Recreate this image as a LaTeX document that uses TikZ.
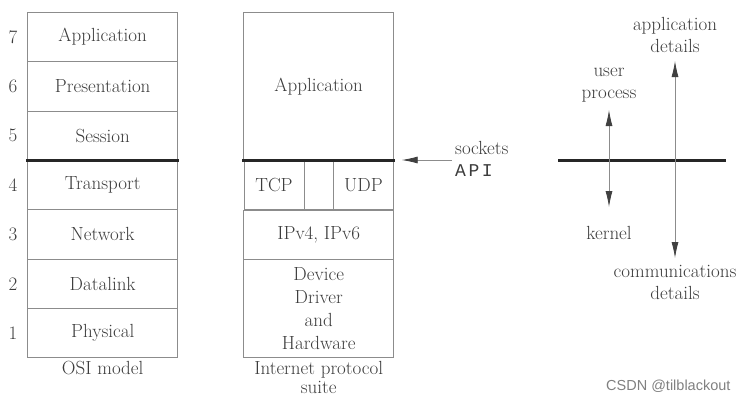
\documentclass[tikz,border=0pt]{standalone}
\usepackage{fontspec}
\usepackage{tikz}
\usetikzlibrary{arrows.meta}
\newfontfamily\apifont[LetterSpace=14]{Liberation Mono}
\newfontfamily\markfont{Liberation Sans}
\definecolor{txtgray}{HTML}{3C3C3C}
\definecolor{boxgray}{HTML}{8C8C8C}

\begin{document}
\begin{tikzpicture}[x=1pt,y=-1pt,
    every node/.style={font=\fontsize{19}{22}\selectfont, text=txtgray},
    layer/.style={draw=boxgray, line width=0.8pt, minimum width=150pt,
      minimum height=49.35pt, inner sep=0pt},
    thickbar/.style={line width=3pt, draw=black!85},
    arr/.style={draw=boxgray, line width=0.8pt, -{Latex[length=16pt,width=7pt,color=black!75]}},
    dblarr/.style={draw=boxgray, line width=0.8pt,
      {Latex[length=16pt,width=7pt,color=black!75]}-{Latex[length=16pt,width=7pt,color=black!75]}}]
  \useasboundingbox (0,0) rectangle (749,402);

  % OSI model
  \foreach \n/\name [count=\i] in {7/Application,6/Presentation,5/Session,
      4/Transport,3/Network,2/Datalink,1/Physical}{
    \node[layer] (osi\n) at (102.7,{36.975+49.35*(\i-1)}) {\name};
    \node (num\n) at (13,{36.975+49.35*(\i-1)}) {\n};
  }
  \node (osicap) at (102.7,368) {OSI model};
  \draw[thickbar] ([xshift=-1.3pt]osi5.south west) -- ([xshift=1.3pt]osi5.south east);

  % Internet protocol suite
  \node[layer, minimum height=148pt] (ipapp) at (318.7,86.3) {Application};
  \node[layer, minimum width=60pt] (tcp) at (274,185) {TCP};
  \node[layer, minimum width=29.7pt] (gap) at (318.85,185) {};
  \node[layer, minimum width=59.6pt] (udp) at (363.5,185) {UDP};
  \node[layer] (ip) at (318.7,234.65) {IPv4, IPv6};
  \node[layer, minimum height=98.4pt, align=center,
    font=\fontsize{19}{23}\selectfont] (dev) at (318.7,308.5)
    {Device\\Driver\\and\\Hardware};
  \node[align=center, font=\fontsize{19}{19}\selectfont] (ipcap) at (318.7,377)
    {Internet protocol\\suite};
  \draw[thickbar] ([xshift=-1.3pt]ipapp.south west) -- ([xshift=1.3pt]ipapp.south east);

  % sockets API
  \node[align=left, anchor=west, inner sep=3.3pt] (sock) at (451.7,159)
    {sockets\\{\apifont\fontsize{18}{22}\selectfont API}};
  \coordinate (apitip) at (401.7,160);
  \draw[arr] (sock.west |- apitip) -- (apitip);

  % user / kernel
  \coordinate (barl) at (558,160);
  \coordinate (barr) at (726,160);
  \draw[thickbar] (barl) -- (barr);
  \node[align=center] (user) at (609,85) {user\\process};
  \node (kernel) at (609,233) {kernel};
  \node[align=center] (appdet) at (675,35) {application\\details};
  \node[align=center] (commdet) at (675,282) {communications\\details};
  \draw[dblarr, shorten <=25pt, shorten >=26pt] (user.center) -- (kernel.center);
  \draw[dblarr, shorten <=26pt, shorten >=24pt] (appdet.center) -- (commdet.center);

  \node[anchor=east, font=\markfont\fontsize{14.5}{16}\selectfont, text=gray]
    (mark) at (734,386) {CSDN @tilblackout};
\end{tikzpicture}
\end{document}
